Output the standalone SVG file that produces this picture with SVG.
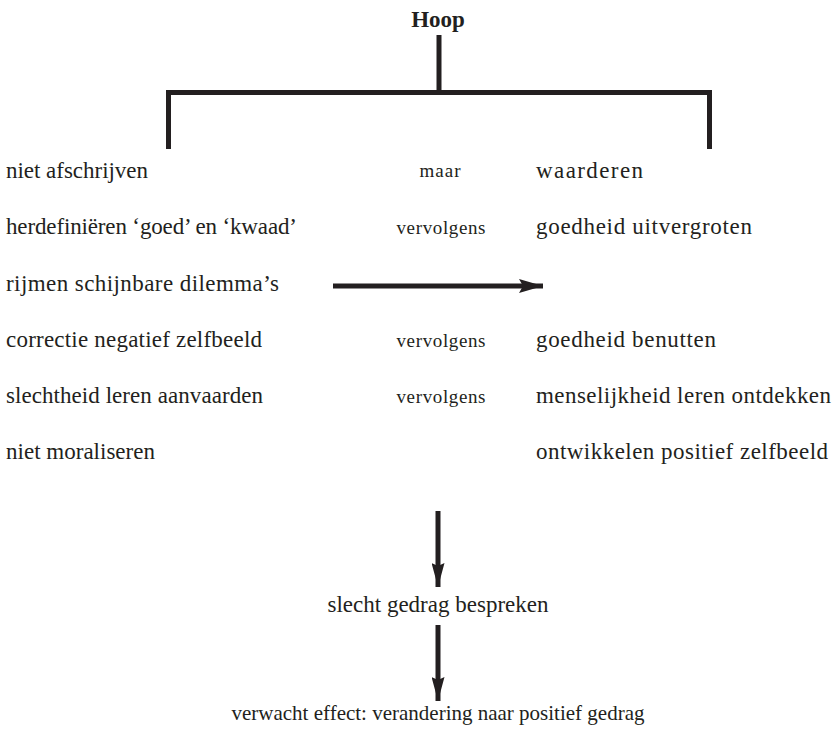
<svg xmlns="http://www.w3.org/2000/svg" width="833" height="733" viewBox="0 0 833 733">
  <style>
    text { font-family: "Liberation Serif", "Times New Roman", serif; fill: #231f20; }
    .item { font-size: 23px; }
    .link { font-size: 19px; text-anchor: middle; }
    .title { font-size: 23px; font-weight: bold; text-anchor: middle; }
    .mid { font-size: 23px; text-anchor: middle; }
    .result { font-size: 21px; text-anchor: middle; }
    .bar { stroke: #231f20; stroke-width: 5; fill: none; stroke-linecap: butt; }
  </style>
  <defs>
    <marker id="head-h" viewBox="0 0 24 14" refX="24" refY="7" markerWidth="24" markerHeight="14" markerUnits="userSpaceOnUse" orient="auto">
      <path d="M0,0 L24,7 L0,14 L4,7 Z" fill="#231f20"/>
    </marker>
    <marker id="head-v" viewBox="0 0 24 13" refX="24" refY="6.5" markerWidth="24" markerHeight="13" markerUnits="userSpaceOnUse" orient="auto">
      <path d="M0,0 L24,6.5 L0,13 L3,6.5 Z" fill="#231f20"/>
    </marker>
  </defs>

  <g id="hoop">
    <text class="title" x="438" y="27">Hoop</text>
  </g>

  <g id="connectors">
    <!-- bracket under the title -->
    <line class="bar" x1="439" y1="35" x2="439" y2="93"/>
    <polyline class="bar" points="168.5,149 168.5,92.5 709.5,92.5 709.5,149"/>
    <!-- horizontal arrow -->
    <line class="bar" x1="333" y1="286" x2="543" y2="286" marker-end="url(#head-h)"/>
    <!-- downward arrows -->
    <line class="bar" x1="438" y1="511" x2="438" y2="587" stroke-width="6" marker-end="url(#head-v)"/>
    <line class="bar" x1="438" y1="625" x2="438" y2="701" stroke-width="6" marker-end="url(#head-v)"/>
  </g>

  <g id="left-column">
    <text class="item" x="6" y="178" textLength="142" lengthAdjust="spacing">niet afschrijven</text>
    <text class="item" x="6" y="234" textLength="291" lengthAdjust="spacing">herdefiniëren ‘goed’ en ‘kwaad’</text>
    <text class="item" x="6" y="291" textLength="273" lengthAdjust="spacing">rijmen schijnbare dilemma’s</text>
    <text class="item" x="6" y="347" textLength="256" lengthAdjust="spacing">correctie negatief  zelfbeeld</text>
    <text class="item" x="6" y="403" textLength="257" lengthAdjust="spacing">slechtheid leren aanvaarden</text>
    <text class="item" x="6" y="459" textLength="149" lengthAdjust="spacing">niet moraliseren</text>
  </g>

  <g id="links">
    <text class="link" x="440" y="177" textLength="41" lengthAdjust="spacing">maar</text>
    <text class="link" x="441" y="234" textLength="89" lengthAdjust="spacing">vervolgens</text>
    <text class="link" x="441" y="347" textLength="89" lengthAdjust="spacing">vervolgens</text>
    <text class="link" x="441" y="403" textLength="89" lengthAdjust="spacing">vervolgens</text>
  </g>

  <g id="right-column">
    <text class="item" x="536" y="178" textLength="107" lengthAdjust="spacing">waarderen</text>
    <text class="item" x="536" y="234" textLength="216" lengthAdjust="spacing">goedheid uitvergroten</text>
    <text class="item" x="536" y="347" textLength="180" lengthAdjust="spacing">goedheid benutten</text>
    <text class="item" x="536" y="403" textLength="295" lengthAdjust="spacing">menselijkheid leren ontdekken</text>
    <text class="item" x="536" y="459" textLength="292" lengthAdjust="spacing">ontwikkelen positief  zelfbeeld</text>
  </g>

  <g id="bespreken">
    <text class="mid" x="438" y="612" textLength="221" lengthAdjust="spacing">slecht gedrag bespreken</text>
  </g>

  <g id="effect">
    <text class="result" x="438" y="720">verwacht effect: verandering naar positief gedrag</text>
  </g>
</svg>
